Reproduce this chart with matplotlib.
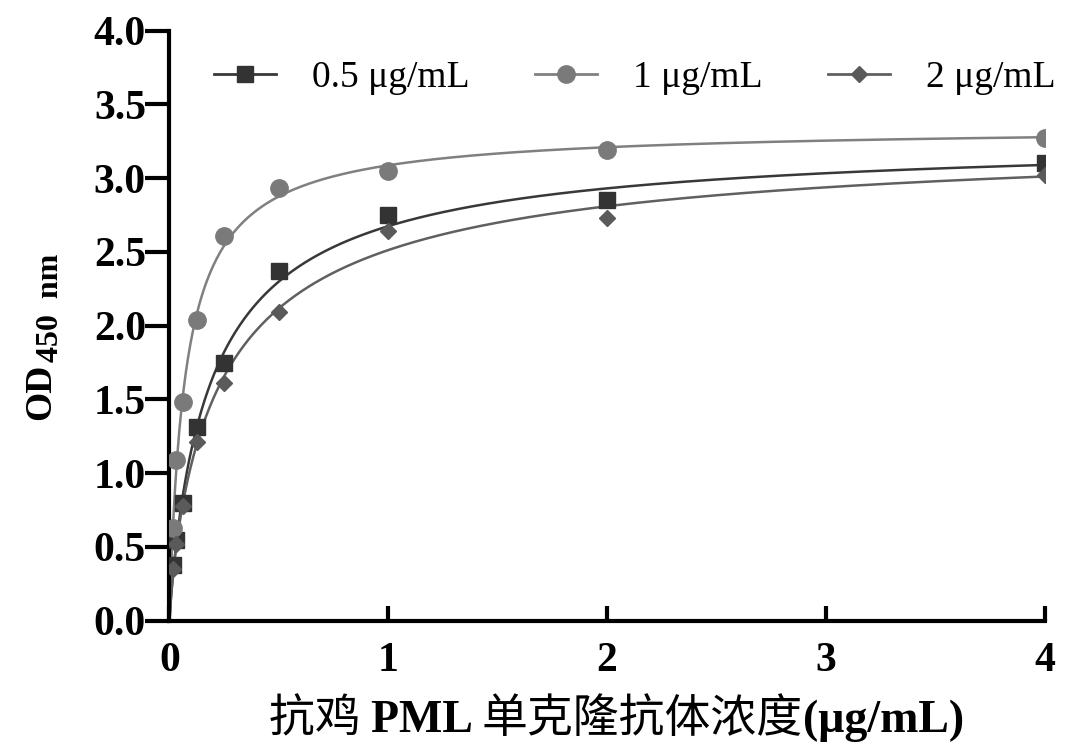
import matplotlib.pyplot as plt
import numpy as np

# antibody concentration (ug/mL) and OD450 for three coating concentrations
conc = [0.015625, 0.03125, 0.0625, 0.125, 0.25, 0.5, 1, 2, 4]
od_05 = [0.38, 0.55, 0.80, 1.31, 1.75, 2.37, 2.75, 2.85, 3.10]
od_1 = [0.63, 1.09, 1.48, 2.04, 2.61, 2.93, 3.05, 3.19, 3.27]
od_2 = [0.35, 0.52, 0.78, 1.21, 1.61, 2.09, 2.64, 2.73, 3.02]
labels = ['0.5 μg/mL', '1 μg/mL', '2 μg/mL']
xticks = [0, 1, 2, 3, 4]
yticks = [0.0, 0.5, 1.0, 1.5, 2.0, 2.5, 3.0, 3.5, 4.0]

plt.rcParams['font.family'] = ['Liberation Serif', 'Noto Sans CJK SC']
CJK = ['Noto Sans CJK SC']


def fit_curve(x, y):
    # one-site binding with hill slope, least squares by grid search
    x = np.asarray(x)
    y = np.asarray(y)
    best = None
    for kd in np.linspace(0.02, 1.0, 200):
        for h in np.linspace(0.5, 1.5, 51):
            f = x ** h / (kd ** h + x ** h)
            bmax = (f @ y) / (f @ f)
            err = np.sum((y - bmax * f) ** 2)
            if best is None or err < best[0]:
                best = (err, bmax, kd, h)
    _, bmax, kd, h = best
    xs = np.linspace(0, 4, 800)
    return xs, bmax * xs ** h / (kd ** h + xs ** h)


fig = plt.figure(figsize=(10.66, 7.47), dpi=100)
ax = fig.add_axes([0.159, 0.169, 0.821, 0.79])

series = [
    (od_05, 's', '#333333', '#383838', 12),
    (od_1, 'o', '#7a7a7a', '#808080', 12.5),
    (od_2, 'D', '#5a5a5a', '#606060', 8.5),
]
handles = []
for (y, m, c, lc, ms), lab in zip(series, labels):
    xs, ys = fit_curve(conc, y)
    ax.plot(xs, ys, color=lc, lw=1.8, zorder=2)
    ax.plot(conc, y, m, color=c, ms=ms, zorder=3)
    h, = ax.plot([], [], marker=m, color=lc, mfc=c, mec=c, ms=ms, lw=2)
    handles.append(h)

ax.set_xlim(0, 4)
ax.set_ylim(0, 4)
ax.set_xticks(xticks)
ax.set_yticks(yticks)
ax.set_yticklabels([f'{v:.1f}' for v in yticks])
for s in ['top', 'right']:
    ax.spines[s].set_visible(False)
for s in ['left', 'bottom']:
    ax.spines[s].set_linewidth(3)
ax.tick_params(axis='y', width=3, length=17, labelsize=30, pad=0)
ax.tick_params(axis='x', direction='in', width=3, length=11, labelsize=30, pad=15)
for t in ax.get_xticklabels() + ax.get_yticklabels():
    t.set_fontweight('bold')

ax.legend(handles, labels, loc='center left', bbox_to_anchor=(0.051, 0.92), ncol=3,
          frameon=False, fontsize=27, handlelength=1.65, columnspacing=1.75,
          handletextpad=0.96, borderpad=0, borderaxespad=0)

fig.canvas.draw()
r = fig.canvas.get_renderer()

# y label: OD with lowered subscript
yb = 0.047
od = fig.text(yb, 0.438, 'OD', fontsize=27, fontweight='bold', rotation=90,
              rotation_mode='anchor', ha='left', va='baseline')
bb = od.get_window_extent(r).transformed(fig.transFigure.inverted())
fig.text(yb + 0.007, bb.y1 + 0.002, '450  nm', fontsize=23, fontweight='bold',
         rotation=90, rotation_mode='anchor', ha='left', va='baseline')

# x label with mixed fonts and weights
parts = [('抗鸡 ', CJK, 'normal'), ('PML ', None, 'bold'),
         ('单克隆抗体浓度', CJK, 'normal'), ('(μg/mL)', None, 'bold')]
x0 = 0.252
for txt, fam, w in parts:
    kw = {'family': fam} if fam else {}
    t = fig.text(x0, 0.02, txt, fontsize=33, fontweight=w, va='baseline', **kw)
    x0 = t.get_window_extent(r).transformed(fig.transFigure.inverted()).x1

plt.savefig('out.png', dpi=100)
